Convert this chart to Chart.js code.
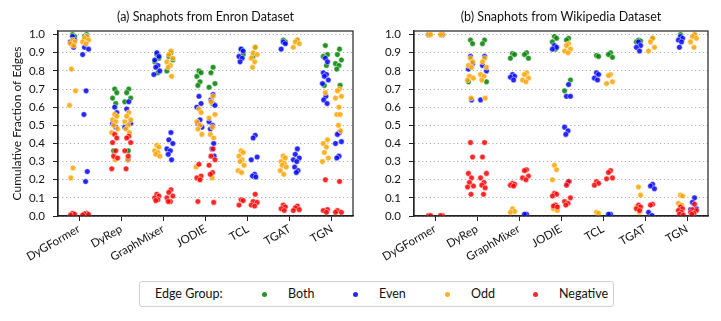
<!DOCTYPE html>
<html>
<head>
<meta charset="utf-8">
<script src="https://cdn.jsdelivr.net/npm/chart.js@4.4.1/dist/chart.umd.min.js"></script>
<style>
  body { margin: 0; background: #fff; font-family: Lato, "Open Sans", sans-serif; }
  #wrap { position: relative; width: 721px; height: 321px; }
  canvas { position: absolute; top: 0; }
  #enron { left: 0; }
  #wiki { left: 360px; }
  .legend { position: absolute; left: 139px; top: 281px; width: 473px; height: 24px;
            border: 1px solid #cfcfcf; border-radius: 3px; font-size: 12.5px; color: #111; }
  .legend span { position: absolute; top: 4px; }
  .legend i { position: absolute; top: 10px; width: 5px; height: 5px; border-radius: 50%; }
</style>
</head>
<body>
<div id="wrap">
  <canvas id="enron" width="360" height="280"></canvas>
  <canvas id="wiki" width="361" height="280"></canvas>
  <div class="legend" id="legend"></div>
</div>
<script>
const models = ['DyGFormer', 'DyRep', 'GraphMixer', 'JODIE', 'TCL', 'TGAT', 'TGN'];
const groups = ['Both', 'Even', 'Odd', 'Negative'];
const groupColors = ['rgba(0,128,0,0.85)', 'rgba(0,0,255,0.85)', 'rgba(255,165,0,0.85)', 'rgba(255,0,0,0.85)'];
const yTicks = [0, 0.1, 0.2, 0.3, 0.4, 0.5, 0.6, 0.7, 0.8, 0.9, 1.0];

// Enron, first (A) and second (B) strip of every model
const enronBothA = [[1.0, 0.99], [0.70, 0.68, 0.65, 0.62, 0.36], [0.89, 0.87, 0.85, 0.79], [0.80, 0.79, 0.77, 0.74, 0.72], [0.92, 0.89], [0.97, 0.96], [0.94, 0.89, 0.88, 0.83, 0.72]];
const enronBothB = [[1.0, 0.99], [0.70, 0.68, 0.65, 0.63, 0.36], [0.90, 0.88, 0.86, 0.80], [0.82, 0.79, 0.73, 0.71, 0.62], [0.93, 0.88], [0.97], [0.92, 0.89, 0.86, 0.84, 0.83, 0.81, 0.72]];
const enronEvenA = [[0.99, 0.97, 0.96, 0.93], [0.60, 0.57, 0.51, 0.49], [0.90, 0.88, 0.86, 0.83, 0.82, 0.80, 0.78], [0.66, 0.62, 0.60, 0.53, 0.51, 0.49], [0.92, 0.91, 0.88, 0.87, 0.85], [0.96, 0.95, 0.92], [0.87, 0.85, 0.79, 0.78, 0.77, 0.75, 0.73, 0.66, 0.64, 0.62]];
const enronEvenB = [[0.99, 0.93, 0.92, 0.89, 0.69, 0.56, 0.245, 0.19], [0.63, 0.59, 0.51, 0.49, 0.31], [0.46, 0.42, 0.40, 0.37, 0.36, 0.34, 0.31], [0.67, 0.64, 0.61, 0.52, 0.50, 0.48, 0.40, 0.37, 0.33], [0.445, 0.43, 0.325, 0.31, 0.23, 0.22, 0.215], [0.37, 0.34, 0.32, 0.31, 0.30, 0.27, 0.25, 0.24], [0.46, 0.45, 0.41, 0.40, 0.33, 0.32]];
const enronOddA = [[0.97, 0.96, 0.95, 0.94, 0.81, 0.69, 0.61, 0.265, 0.21], [0.56, 0.55, 0.53, 0.52, 0.50, 0.48, 0.46, 0.31], [0.39, 0.38, 0.36, 0.35, 0.34, 0.33], [0.59, 0.57, 0.52, 0.50, 0.48, 0.45, 0.27, 0.20], [0.36, 0.35, 0.33, 0.31, 0.30, 0.28, 0.25, 0.24], [0.33, 0.32, 0.30, 0.29, 0.28, 0.27, 0.25, 0.23], [0.68, 0.42, 0.40, 0.38, 0.35, 0.32, 0.30]];
const enronOddB = [[0.99, 0.98, 0.97, 0.96, 0.95], [0.57, 0.55, 0.53, 0.52, 0.50, 0.48, 0.46, 0.31], [0.91, 0.89, 0.87, 0.85, 0.83, 0.82, 0.77], [0.66, 0.63, 0.56, 0.54, 0.49, 0.45, 0.43, 0.21], [0.93, 0.90, 0.89, 0.87, 0.85, 0.82], [0.97, 0.96, 0.95, 0.93], [0.70, 0.69, 0.66, 0.65, 0.60, 0.56, 0.56, 0.50, 0.47]];
const enronNegA = [[0.015, 0.01, 0.005], [0.45, 0.43, 0.405, 0.36, 0.33, 0.32, 0.26], [0.12, 0.11, 0.10, 0.09, 0.085], [0.285, 0.22, 0.21, 0.20, 0.08], [0.09, 0.085, 0.06], [0.06, 0.05, 0.04, 0.03], [0.20, 0.035, 0.03, 0.02]];
const enronNegB = [[0.015, 0.012, 0.008, 0.005], [0.44, 0.43, 0.405, 0.36, 0.33, 0.26], [0.145, 0.13, 0.11, 0.10, 0.08, 0.08], [0.37, 0.33, 0.31, 0.28, 0.24, 0.23, 0.075], [0.12, 0.08, 0.075, 0.06, 0.055], [0.055, 0.045, 0.035, 0.03], [0.19, 0.03, 0.02, 0.02]];

// Wikipedia
const wikiBothA = [[1.0], [0.97, 0.95, 0.74], [0.895, 0.89, 0.87], [0.99, 0.98, 0.96, 0.92], [0.885, 0.88], [0.97, 0.965, 0.96], [1.0]];
const wikiBothB = [[1.0], [0.97, 0.95, 0.74], [0.90, 0.89, 0.87], [0.98, 0.97, 0.75, 0.69], [0.90, 0.89, 0.875], [0.98], [1.0]];
const wikiEvenA = [[1.0], [0.88, 0.84, 0.81, 0.64], [0.78, 0.77, 0.765, 0.75], [0.94, 0.93, 0.92], [0.79, 0.78, 0.76, 0.75], [0.96, 0.94, 0.93, 0.91], [0.99, 0.98, 0.97, 0.96, 0.93]];
const wikiEvenB = [[1.0], [0.88, 0.83, 0.80, 0.64], [0.01, 0.01], [0.725, 0.66, 0.66, 0.49, 0.47, 0.45, 0.19, 0.18], [0.01, 0.01], [0.175, 0.165, 0.15, 0.02, 0.003], [0.10, 0.075, 0.04, 0.035]];
const wikiOddA = [[1.0, 1.0], [0.87, 0.85, 0.83, 0.82, 0.77, 0.76, 0.75, 0.65], [0.04, 0.025, 0.02], [0.28, 0.255, 0.20, 0.06, 0.04, 0.03], [0.02, 0.015], [0.16, 0.115, 0.05, 0.02], [0.115, 0.11, 0.07, 0.06, 0.035]];
const wikiOddB = [[1.0, 1.0], [0.87, 0.85, 0.82, 0.78, 0.77, 0.75, 0.65], [0.79, 0.78, 0.76, 0.75, 0.74], [0.95, 0.94, 0.92, 0.91, 0.90], [0.78, 0.775, 0.74, 0.73], [0.98, 0.96, 0.93, 0.91], [1.0, 0.99, 0.98, 0.96, 0.93]];
const wikiNegA = [[0.002, 0.002], [0.405, 0.325, 0.235, 0.21, 0.185, 0.165, 0.16, 0.12], [0.18, 0.175, 0.17, 0.165], [0.125, 0.12, 0.11, 0.06, 0.055, 0.05], [0.19, 0.18, 0.17], [0.06, 0.05, 0.04, 0.03], [0.05, 0.04, 0.03, 0.02, 0.01, 0.005]];
const wikiNegB = [[0.002, 0.002], [0.405, 0.325, 0.235, 0.21, 0.185, 0.17, 0.155, 0.12], [0.255, 0.25, 0.22, 0.21, 0.20], [0.19, 0.17, 0.10, 0.08, 0.07, 0.06], [0.25, 0.24, 0.21, 0.205], [0.065, 0.06], [0.065, 0.035, 0.03, 0.02, 0.015, 0.01]];

// strip layout: the two strips sit either side of the tick, points spread a little inside a strip
const stripOffset = 0.155;
const spread = [0, 0.05, -0.05, 0.025, -0.025, 0.07, -0.07, 0.012, -0.04, 0.04];

function stripPoints(colA, colB) {
  const pts = [];
  models.forEach((m, i) => {
    colA[i].forEach((v, k) => pts.push({ x: i - stripOffset + spread[k % spread.length], y: v }));
    colB[i].forEach((v, k) => pts.push({ x: i + stripOffset + spread[(k + 3) % spread.length], y: v }));
  });
  return pts;
}

const framePlugin = {
  id: 'frame',
  afterDraw(chart) {
    const { ctx, chartArea: a } = chart;
    ctx.save();
    ctx.strokeStyle = '#222';
    ctx.lineWidth = 1.2;
    ctx.strokeRect(a.left, a.top, a.right - a.left, a.bottom - a.top);
    ctx.restore();
  }
};

function makeChart(id, title, cols, yTitle, yWidth, padRight) {
  const datasets = groups.map((g, gi) => ({
    label: g,
    data: stripPoints(cols[gi][0], cols[gi][1]),
    backgroundColor: groupColors[gi],
    borderColor: 'rgba(255,255,255,0.9)',
    borderWidth: 0.5,
    pointRadius: 2.8,
    order: 3 - gi
  }));
  return new Chart(document.getElementById(id), {
    type: 'scatter',
    data: { datasets },
    plugins: [framePlugin],
    options: {
      responsive: false,
      animation: false,
      layout: { padding: { left: 0, right: padRight, top: 0, bottom: 0 } },
      plugins: {
        legend: { display: false },
        tooltip: { enabled: false },
        title: {
          display: true, text: title, fullSize: false, color: '#111',
          font: { family: 'Lato', size: 12.5, weight: 'normal' },
          padding: { top: 9, bottom: 7 }
        }
      },
      scales: {
        x: {
          type: 'linear', min: -0.5, max: 6.5,
          afterBuildTicks: s => { s.ticks = models.map((m, i) => ({ value: i })); },
          afterFit: s => { s.height = 64; },
          grid: { drawOnChartArea: false, tickLength: 5, tickColor: '#222', tickWidth: 1, tickBorderDash: [] },
          border: { color: '#222', width: 1.2 },
          ticks: {
            autoSkip: false, minRotation: 30, maxRotation: 30, padding: 1, color: '#111',
            font: { family: 'Lato', size: 11.5 },
            callback: v => models[v]
          }
        },
        y: {
          min: 0, max: 1.02,
          afterBuildTicks: s => { s.ticks = yTicks.map(v => ({ value: v })); },
          afterFit: s => { s.width = yWidth; },
          grid: { color: '#aaa', lineWidth: 0.9, tickLength: 5, tickColor: '#222', tickWidth: 1, tickBorderDash: [] },
          border: { color: '#222', width: 1.2, dash: [1.3, 2.6] },
          ticks: {
            padding: 8, color: '#111', font: { family: 'Lato', size: 11.5 },
            callback: v => v.toFixed(1)
          },
          title: {
            display: !!yTitle, text: yTitle, color: '#111',
            font: { family: 'Lato', size: 12 },
            padding: { top: 10, bottom: 0 }
          }
        }
      }
    }
  });
}

makeChart('enron', '(a) Snaphots from Enron Dataset',
  [[enronBothA, enronBothB], [enronEvenA, enronEvenB], [enronOddA, enronOddB], [enronNegA, enronNegB]],
  'Cumulative Fraction of Edges', 58, 7);
makeChart('wiki', '(b) Snaphots from Wikipedia Dataset',
  [[wikiBothA, wikiBothB], [wikiEvenA, wikiEvenB], [wikiOddA, wikiOddB], [wikiNegA, wikiNegB]],
  '', 54, 13);

// shared legend below both panels
const legend = document.getElementById('legend');
const legendText = [['Edge Group:', 15]];
const legendMarks = [122, 213, 305, 393];
legend.innerHTML = '<span style="left:15px">Edge Group:</span>' +
  groups.map((g, gi) =>
    `<i style="left:${legendMarks[gi]}px;background:${groupColors[gi]}"></i>` +
    `<span style="left:${legendMarks[gi] + 26}px">${g}</span>`).join('');
</script>
</body>
</html>
